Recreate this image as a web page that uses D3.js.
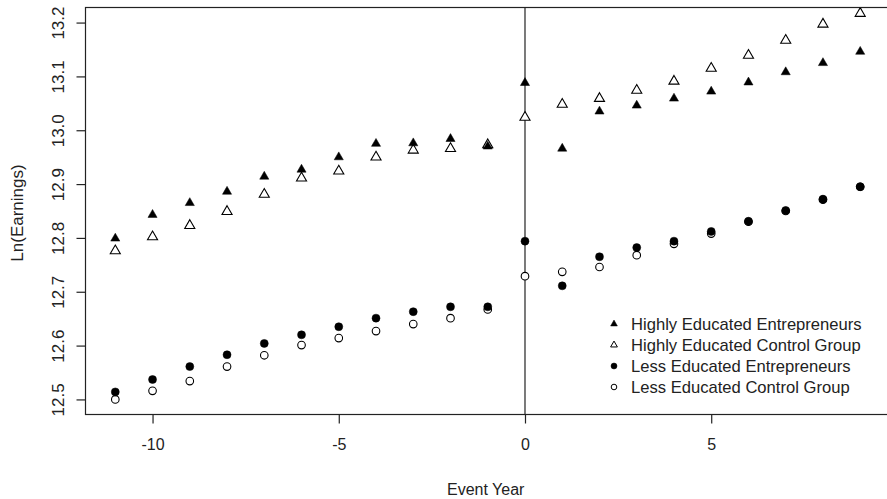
<!DOCTYPE html>
<html>
<head>
<meta charset="utf-8">
<script src="https://cdn.jsdelivr.net/npm/d3@7"></script>
<style>
  html, body { margin: 0; padding: 0; background: #fff; }
  svg { display: block; font-family: "Liberation Sans", Arial, sans-serif; }
</style>
</head>
<body>
<svg id="chart" width="887" height="499"></svg>
<script>
// ---- Data ----
const eventYears = [-11,-10,-9,-8,-7,-6,-5,-4,-3,-2,-1,0,1,2,3,4,5,6,7,8,9];

const highEntrepreneurs = [12.799,12.843,12.865,12.886,12.914,12.927,12.950,12.975,12.976,12.984,12.970,
                           13.088,12.966,13.035,13.046,13.059,13.072,13.089,13.108,13.125,13.146];
const highControl       = [12.776,12.802,12.823,12.849,12.881,12.911,12.924,12.950,12.963,12.966,12.973,
                           13.024,13.048,13.059,13.074,13.091,13.115,13.139,13.167,13.197,13.217];
const lessEntrepreneurs = [12.514,12.537,12.561,12.583,12.604,12.620,12.635,12.651,12.663,12.672,12.672,
                           12.794,12.711,12.765,12.782,12.794,12.812,12.831,12.851,12.872,12.895];
const lessControl       = [12.500,12.516,12.534,12.561,12.582,12.601,12.614,12.627,12.640,12.651,12.667,
                           12.729,12.737,12.746,12.768,12.789,12.808,12.830,12.850,12.871,12.895];

const seriesNames = ["Highly Educated Entrepreneurs","Highly Educated Control Group",
                     "Less Educated Entrepreneurs","Less Educated Control Group"];
const xTicks = [-10,-5,0,5];
const yTicks = [12.5,12.6,12.7,12.8,12.9,13.0,13.1,13.2];
const xTitle = "Event Year";
const yTitle = "Ln(Earnings)";

// ---- Layout ----
const svg = d3.select("#chart");
const L = 85.5, T = 7.5, B = 414.5, R = 890;
const x = d3.scaleLinear().domain([-11.8, 9.8]).range([L, R]);
const y = d3.scaleLinear().domain([12.472, 13.228]).range([B, T]);
const ink = "#222";

svg.append("defs").append("clipPath").attr("id","plotclip")
  .append("rect").attr("x",L).attr("y",T).attr("width",R-L).attr("height",B-T);

// axes
const xAxis = svg.append("g").attr("transform",`translate(0,${B})`)
  .call(d3.axisBottom(x).tickValues(xTicks).tickSize(9).tickPadding(0).tickFormat(d3.format("d")));
xAxis.select(".domain").remove();
xAxis.selectAll("line").attr("stroke",ink).attr("stroke-width",1.2);
xAxis.selectAll("text").attr("y",35).attr("dy",null).attr("font-size",16).attr("fill",ink)
  .text(d => d < 0 ? "-" + Math.abs(d) : d);

const yAxis = svg.append("g").attr("transform",`translate(${L},0)`)
  .call(d3.axisLeft(y).tickValues(yTicks).tickSize(9).tickFormat(d3.format(".1f")));
yAxis.select(".domain").remove();
yAxis.selectAll("line").attr("stroke",ink).attr("stroke-width",1.2);
yAxis.selectAll("text").attr("x",null).attr("dy",null).attr("y",null)
  .attr("text-anchor","middle").attr("font-size",17).attr("fill",ink)
  .attr("transform","translate(-22,0) rotate(-90)");

// box (right edge falls just outside the picture)
svg.append("rect").attr("x",L).attr("y",T).attr("width",R-L).attr("height",B-T)
  .attr("fill","none").attr("stroke",ink).attr("stroke-width",1.2);

// vertical line at event year 0
svg.append("line").attr("x1",x(0)).attr("x2",x(0)).attr("y1",T).attr("y2",B)
  .attr("stroke",ink).attr("stroke-width",1.2);

// titles
svg.append("text").attr("x",(L+R)/2 - 2).attr("y",495).attr("text-anchor","middle")
  .attr("font-size",16).attr("fill",ink).text(xTitle);
svg.append("text").attr("transform",`translate(23,${(T+B)/2 + 2}) rotate(-90)`)
  .attr("text-anchor","middle").attr("font-size",17).attr("fill",ink).text(yTitle);

// points
const pts = svg.append("g").attr("clip-path","url(#plotclip)");
const tri = d3.symbol().type(d3.symbolTriangle);
function drawTri(vals, filled, size) {
  pts.selectAll(null).data(eventYears.map((e,i)=>[e,vals[i]])).enter().append("path")
    .attr("d", tri.size(size)())
    .attr("transform", d => `translate(${x(d[0])},${y(d[1])})`)
    .attr("fill", filled ? "#000" : "#fff")
    .attr("stroke", "#000").attr("stroke-width", filled ? 0.5 : 1.1);
}
function drawCirc(vals, filled) {
  pts.selectAll(null).data(eventYears.map((e,i)=>[e,vals[i]])).enter().append("circle")
    .attr("cx", d => x(d[0])).attr("cy", d => y(d[1])).attr("r", filled ? 4 : 3.8)
    .attr("fill", filled ? "#000" : "#fff")
    .attr("stroke", "#000").attr("stroke-width", filled ? 0.5 : 1.1);
}
drawTri(highControl, false, 44);
drawTri(highEntrepreneurs, true, 36);
drawCirc(lessControl, false);
drawCirc(lessEntrepreneurs, true);

// legend
const lx = 614, ltx = 631, ly0 = 324, ldy = 21;
const leg = svg.append("g");
seriesNames.forEach((name, i) => {
  const cy = ly0 + i*ldy;
  if (i < 2) {
    leg.append("path").attr("d", tri.size(20)())
      .attr("transform", `translate(${lx},${cy})`)
      .attr("fill", i === 0 ? "#000" : "#fff").attr("stroke","#000").attr("stroke-width", i===0?0.5:1);
  } else {
    leg.append("circle").attr("cx", lx).attr("cy", cy).attr("r", i === 2 ? 3 : 2.8)
      .attr("fill", i === 2 ? "#000" : "#fff").attr("stroke","#000").attr("stroke-width", i===2?0.5:1);
  }
  leg.append("text").attr("x", ltx).attr("y", cy + 6).attr("font-size",16.6).attr("fill",ink).text(name);
});
</script>
</body>
</html>
